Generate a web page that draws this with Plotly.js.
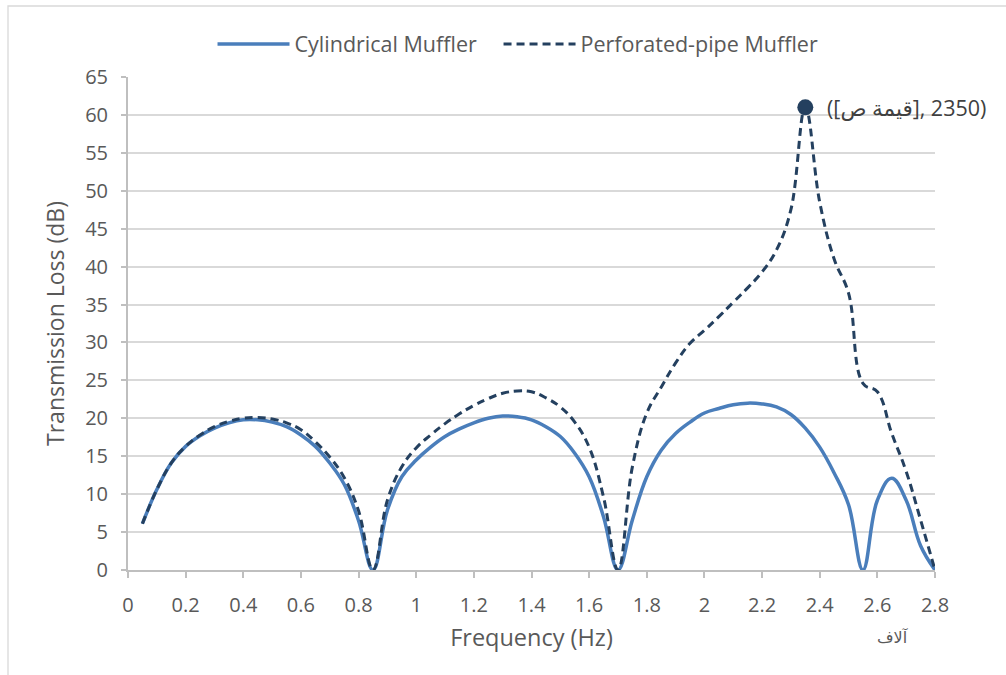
<!DOCTYPE html>
<html>
<head>
<meta charset="utf-8">
<script src="https://cdn.plot.ly/plotly-3.0.1.min.js"></script>
<style>
  html, body { margin: 0; padding: 0; background: #ffffff; }
  #chart { width: 1006px; height: 675px; }
</style>
</head>
<body>
<div id="chart"></div>
<script>
// Frequency in Hz (axis shown in thousands)
const frequencyHz = [50, 100, 150, 200, 250, 300, 350, 400, 450, 500,
  550, 600, 650, 700, 750, 800, 850, 900, 950, 1000,
  1050, 1100, 1150, 1200, 1250, 1300, 1350, 1400, 1450, 1500,
  1550, 1600, 1650, 1700, 1750, 1800, 1850, 1900, 1950, 2000,
  2050, 2100, 2150, 2200, 2250, 2300, 2350, 2400, 2450, 2500,
  2550, 2600, 2650, 2700, 2750, 2800];

const cylindricalTL = [6.1, 10.6, 14.1, 16.3, 17.7, 18.7, 19.4, 19.8, 19.8, 19.5,
  18.9, 17.8, 16.3, 14.1, 11.3, 6.5, 0, 7.9, 12.3, 14.5,
  16.2, 17.6, 18.6, 19.4, 20.0, 20.3, 20.2, 19.8, 18.9, 17.6,
  15.4, 12.3, 7.0, 0, 6.6, 12.3, 15.8, 18.0, 19.5, 20.7,
  21.3, 21.8, 22.0, 21.9, 21.5, 20.5, 18.7, 16.2, 12.8, 8.6,
  0, 9.2, 12.1, 9.2, 3.2, 0];

const perforatedTL = [6.1, 10.6, 14.1, 16.3, 17.8, 18.9, 19.6, 20.0, 20.1, 19.9,
  19.4, 18.5, 16.9, 14.9, 12.2, 7.8, 0, 9.2, 13.6, 16.1,
  17.8, 19.3, 20.6, 21.7, 22.6, 23.3, 23.6, 23.5, 22.7, 21.5,
  19.5, 16.2, 9.6, 0, 13.6, 20.7, 24.1, 27.3, 29.9, 31.6,
  33.4, 35.3, 37.2, 39.3, 42.2, 47.5, 61, 48.5, 41, 36.5,
  24.6, 23.5, 18, 13, 6.6, 0];

const seriesNames = ["Cylindrical Muffler", "Perforated-pipe Muffler"];

const peakFrequency = [2350];
const peakValue = [61];
const peakLabel = "([\u0642\u064A\u0645\u0629 \u0635]\u200E, 2350)";

const xTickValues = [0, 200, 400, 600, 800, 1000, 1200, 1400, 1600, 1800, 2000, 2200, 2400, 2600, 2800];
const xTickLabels = ["0", "0.2", "0.4", "0.6", "0.8", "1", "1.2", "1.4", "1.6", "1.8", "2", "2.2", "2.4", "2.6", "2.8"];
const yTickValues = [0, 5, 10, 15, 20, 25, 30, 35, 40, 45, 50, 55, 60, 65];

const xTitle = "Frequency (Hz)";
const yTitle = "Transmission Loss (dB)";
const unitsLabel = "\u0622\u0644\u0627\u0641";

const FONT = "'Open Sans', 'DejaVu Sans', sans-serif";
const TEXT = "#595959";
const PAD = "\u00A0\u00A0\u00A0";

const traces = [
  {
    x: frequencyHz, y: cylindricalTL, name: seriesNames[0] + PAD,
    type: "scatter", mode: "lines",
    line: { color: "#4A7EBB", width: 3.5, shape: "spline", smoothing: 1.15 },
    hoverinfo: "x+y"
  },
  {
    x: frequencyHz, y: perforatedTL, name: seriesNames[1],
    type: "scatter", mode: "lines",
    line: { color: "#24405F", width: 3, dash: "8px,5px", shape: "spline", smoothing: 1.15 },
    hoverinfo: "x+y"
  },
  {
    x: peakFrequency, y: peakValue, type: "scatter", mode: "markers",
    marker: { color: "#24405F", size: 16 },
    showlegend: false, hoverinfo: "x+y"
  }
];

const layout = {
  width: 1006, height: 675,
  margin: { l: 128, r: 71, t: 77, b: 105 },
  paper_bgcolor: "#ffffff", plot_bgcolor: "#ffffff",
  font: { family: FONT, color: TEXT, size: 20 },
  showlegend: true,
  legend: {
    orientation: "h", x: 0.4833, xanchor: "center", y: 1.067, yanchor: "middle",
    font: { family: FONT, size: 21.5, color: TEXT },
    itemwidth: 72,
    bgcolor: "rgba(0,0,0,0)"
  },
  xaxis: {
    range: [0, 2800], tickmode: "array", tickvals: xTickValues, ticktext: xTickLabels,
    showgrid: false, zeroline: false,
    showline: true, linecolor: "#BFBFBF", linewidth: 2,
    ticks: "outside", ticklen: 6, tickwidth: 1.5, tickcolor: "#BFBFBF",
    ticklabelstandoff: 10,
    tickfont: { family: FONT, size: 20, color: TEXT },
    title: { text: xTitle, font: { family: FONT, size: 23.5, color: TEXT }, standoff: 13 },
    fixedrange: true
  },
  yaxis: {
    range: [0, 65], tickmode: "array", tickvals: yTickValues,
    showgrid: true, gridcolor: "#D9D9D9", gridwidth: 1.5,
    zeroline: false,
    showline: true, linecolor: "#BFBFBF", linewidth: 2,
    ticks: "outside", ticklen: 5, tickwidth: 1.5, tickcolor: "#BFBFBF",
    ticklabelstandoff: 9,
    tickfont: { family: FONT, size: 20, color: TEXT },
    title: { text: yTitle, font: { family: FONT, size: 23, color: TEXT }, standoff: 14 },
    fixedrange: true
  },
  shapes: [
    {
      type: "rect", xref: "paper", yref: "paper", layer: "below",
      x0: -0.1487, x1: 1.3, y0: -0.4, y1: 1.144,
      line: { color: "#D9D9D9", width: 1.3 }, fillcolor: "rgba(0,0,0,0)"
    }
  ],
  annotations: [
    {
      x: peakFrequency[0], y: peakValue[0], xref: "x", yref: "y",
      text: peakLabel, showarrow: false, xanchor: "left", yanchor: "middle",
      xshift: 20, font: { family: FONT, size: 21.5, color: "#404040" }
    },
    {
      x: 0.948, y: -0.136, xref: "paper", yref: "paper",
      text: unitsLabel, showarrow: false, xanchor: "center", yanchor: "middle",
      font: { family: "'DejaVu Sans', sans-serif", size: 16, color: TEXT }
    }
  ]
};

Plotly.newPlot("chart", traces, layout, { displayModeBar: false, staticPlot: false });
</script>
</body>
</html>
